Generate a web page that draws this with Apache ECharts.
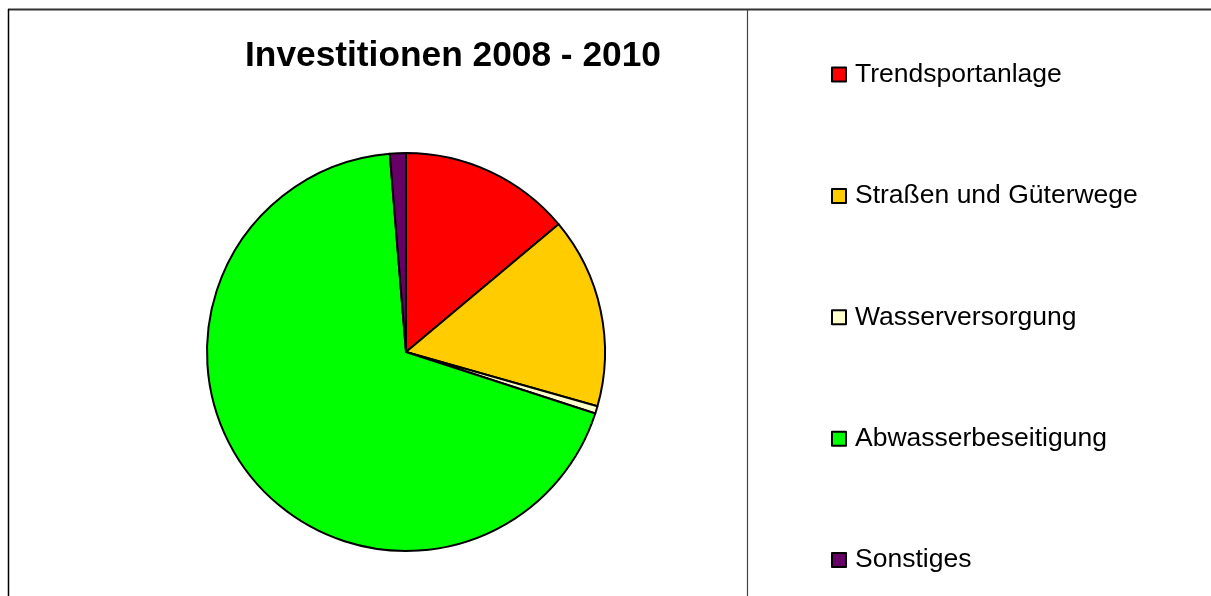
<!DOCTYPE html>
<html>
<head>
<meta charset="utf-8">
<script src="https://cdn.jsdelivr.net/npm/echarts@6/dist/echarts.min.js"></script>
<style>
html,body{margin:0;padding:0;background:#fff;}
#chart{width:1211px;height:596px;}
</style>
</head>
<body>
<div id="chart"></div>
<script>
const titleText = 'Investitionen 2008 - 2010';
const categories = ['Trendsportanlage', 'Straßen und Güterwege', 'Wasserversorgung', 'Abwasserbeseitigung', 'Sonstiges'];
const values = [13.9, 15.5, 0.6, 68.7, 1.3];
const colors = ['#FF0000', '#FFCC00', '#FFFFCC', '#00FF00', '#660066'];

const chart = echarts.init(document.getElementById('chart'), null, {renderer: 'canvas'});
const font = '"Liberation Sans", Arial, sans-serif';
chart.setOption({
  animation: false,
  backgroundColor: '#ffffff',
  title: {
    text: titleText,
    left: 448,
    top: 34,
    textAlign: 'center',
    textStyle: {fontFamily: font, fontSize: 35.3, fontWeight: 'bold', color: '#000'}
  },
  legend: {
    orient: 'vertical',
    left: 826,
    top: 56,
    itemWidth: 14,
    itemHeight: 14,
    itemGap: 94.4,
    icon: 'rect',
    selectedMode: false,
    data: categories,
    itemStyle: {borderColor: '#000', borderWidth: 2},
    textStyle: {fontFamily: font, fontSize: 26.5, color: '#000', lineHeight: 26, padding: [0, 0, 0, 4]}
  },
  graphic: [
    {type: 'line', shape: {x1: 8, y1: 9.5, x2: 1211, y2: 9.5}, style: {stroke: '#333', lineWidth: 2}},
    {type: 'line', shape: {x1: 8.5, y1: 9, x2: 8.5, y2: 596}, style: {stroke: '#000', lineWidth: 1.5}},
    {type: 'line', shape: {x1: 747.5, y1: 10, x2: 747.5, y2: 596}, style: {stroke: '#444', lineWidth: 1.2}}
  ],
  series: [{
    type: 'pie',
    center: [406, 352],
    radius: 199,
    startAngle: 90,
    clockwise: true,
    label: {show: false},
    labelLine: {show: false},
    emphasis: {disabled: true},
    itemStyle: {borderColor: '#000', borderWidth: 2},
    data: categories.map((c, i) => ({name: c, value: values[i], itemStyle: {color: colors[i]}}))
  }]
});
</script>
</body>
</html>
